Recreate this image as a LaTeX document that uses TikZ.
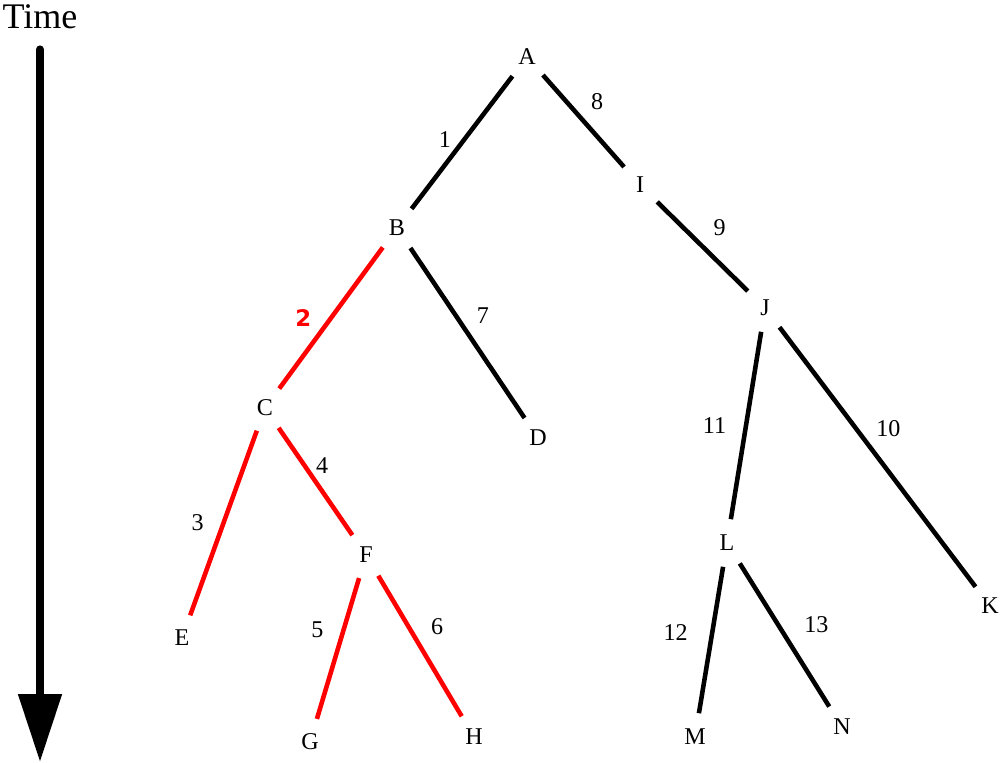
\documentclass[tikz,border=0pt]{standalone}
\usepackage{fontspec}
\setmainfont{Liberation Serif}
\newfontfamily\redfont{DejaVu Sans}
\usepackage{tikz}
\usetikzlibrary{arrows.meta}
\tikzset{
  vert/.style={circle, inner sep=0pt, minimum size=0.95cm, font=\fontsize{13.7}{16}\selectfont},
  lbl/.style={inner sep=2pt, text=black, font=\fontsize{13.7}{16}\selectfont},
  blk/.style={black, line width=2.6pt},
  hot/.style={red, line width=2.6pt}
}

\begin{document}
\begin{tikzpicture}[x=0.02cm, y=-0.02cm]
\useasboundingbox (0,0) rectangle (1000,763);
% time axis
\node[font=\fontsize{20.5}{24}\selectfont, inner sep=0pt] (time) at (40,17) {Time};
\coordinate (tbot) at (40,762);
\draw[line width=4.6pt, line cap=round, -{Triangle[length=1.36cm,width=0.84cm]}]
  ([yshift=-0.4cm]time.south) -- (tbot);
% tree
\node[vert] (A) at (527,57) {A};
\node[vert] (B) at (397,228) {B};
\node[vert] (C) at (265,408) {C};
\node[vert] (D) at (538,438) {D};
\node[vert] (E) at (182,638) {E};
\node[vert] (F) at (366,555) {F};
\node[vert] (G) at (310,742) {G};
\node[vert] (H) at (474,737) {H};
\node[vert] (I) at (640,185) {I};
\node[vert] (J) at (765,308) {J};
\node[vert] (K) at (990,606) {K};
\node[vert] (L) at (727,543) {L};
\node[vert] (M) at (695,737) {M};
\node[vert] (N) at (842,727) {N};

\draw[blk] (A) -- node[lbl, above left=2pt, xshift=-1pt, yshift=-8pt] {1} (B);
\draw[hot] (B) -- node[lbl, left=8pt, text=red, font=\redfont\bfseries\fontsize{13}{16}\selectfont] {2} (C);
\draw[hot] (C) -- node[lbl, left=8pt] {3} (E);
\draw[hot] (C) -- node[lbl, above right=1pt, xshift=-4pt] {4} (F);
\draw[hot] (F) -- node[lbl, above left=3pt, xshift=-2pt] {5} (G);
\draw[hot] (F) -- node[lbl, above right=3pt] {6} (H);
\draw[blk] (B) -- node[lbl, above right=2pt] {7} (D);
\draw[blk] (A) -- node[lbl, above right=3pt, xshift=-2pt] {8} (I);
\draw[blk] (I) -- node[lbl, above right=3pt] {9} (J);
\draw[blk] (J) -- node[lbl, above right=4pt, xshift=-8pt, yshift=4pt] {10} (K);
\draw[blk] (J) -- node[lbl, left=8pt] {11} (L);
\draw[blk] (L) -- node[lbl, left=10pt, yshift=4pt] {12} (M);
\draw[blk] (L) -- node[lbl, right=8pt, yshift=6pt] {13} (N);
\end{tikzpicture}
\end{document}
